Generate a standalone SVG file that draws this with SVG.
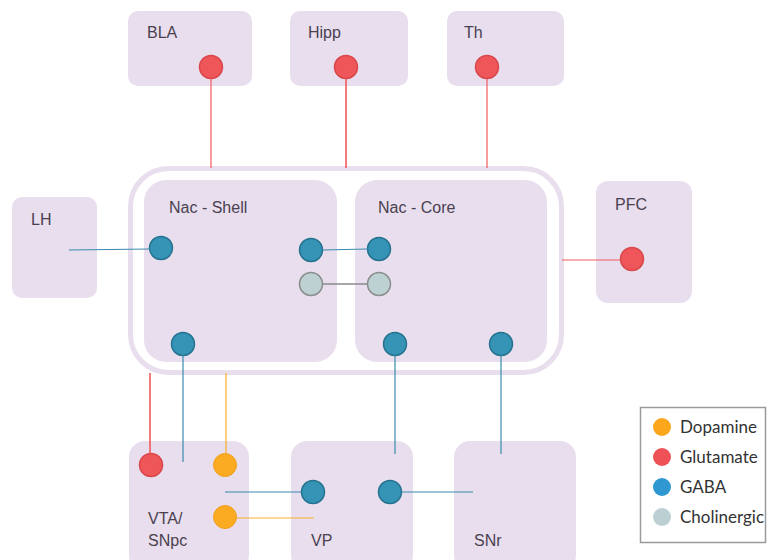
<svg xmlns="http://www.w3.org/2000/svg" width="768" height="560" viewBox="0 0 768 560">
<style>
.box{fill:#e8deed;}
.lbl{font-family:"Liberation Sans",Arial,sans-serif;font-size:16px;fill:#4a4150;}
.leg{font-family:"Lato","Open Sans",sans-serif;font-size:17px;fill:#333;}
.glu{fill:#ef5659;stroke:#d8474b;stroke-width:1.5;}
.gaba{fill:#3593b6;stroke:#24728f;stroke-width:1.5;}
.ach{fill:#bdd1d3;stroke:#8a8c8c;stroke-width:1.5;}
.da{fill:#fbab22;stroke:#f0a020;stroke-width:1;}
.cr{stroke:#f05a5c;stroke-width:1.2;fill:none;}
.cb{stroke:#3a8aae;stroke-width:1.2;fill:none;}
.co{stroke:#f9ad2a;stroke-width:1.2;fill:none;}
.cg{stroke:#8a8a8a;stroke-width:1.5;fill:none;}
</style>
<rect width="768" height="560" fill="#ffffff"/>
<g id="BLA">
<rect class="box" x="128" y="11" width="124" height="75" rx="10"/>
<text class="lbl" x="147" y="38">BLA</text>
<circle class="glu" cx="211" cy="67" r="11.5"/>
</g>
<g id="Hipp">
<rect class="box" x="290" y="11" width="118" height="75" rx="10"/>
<text class="lbl" x="308" y="38">Hipp</text>
<circle class="glu" cx="346" cy="67" r="11.5"/>
</g>
<g id="Th">
<rect class="box" x="447" y="11" width="117" height="75" rx="10"/>
<text class="lbl" x="464" y="38">Th</text>
<circle class="glu" cx="487" cy="67" r="11.5"/>
</g>
<g id="NAc">
<rect x="130.5" y="168.5" width="431" height="204" rx="38" fill="#ffffff" stroke="#e8deed" stroke-width="5"/>
</g>
<g id="LH">
<rect class="box" x="12" y="197" width="85" height="101" rx="10"/>
<text class="lbl" x="31" y="225">LH</text>
</g>
<g id="PFC">
<rect class="box" x="596" y="181" width="96" height="122" rx="12"/>
<text class="lbl" x="615" y="210">PFC</text>
<circle class="glu" cx="632" cy="259" r="11.5"/>
</g>
<g id="NacShell">
<rect class="box" x="144" y="180" width="193" height="182" rx="22"/>
<text class="lbl" x="169" y="213">Nac - Shell</text>
<circle class="gaba" cx="161" cy="248" r="11.5"/>
<circle class="gaba" cx="311" cy="250" r="11.5"/>
<circle class="ach" cx="311" cy="284" r="11.5"/>
<circle class="gaba" cx="183" cy="344" r="11.5"/>
</g>
<g id="NacCore">
<rect class="box" x="355" y="180" width="192" height="182" rx="22"/>
<text class="lbl" x="378" y="213">Nac - Core</text>
<circle class="gaba" cx="379" cy="249" r="11.5"/>
<circle class="ach" cx="379" cy="284" r="11.5"/>
<circle class="gaba" cx="395" cy="344" r="11.5"/>
<circle class="gaba" cx="501" cy="344" r="11.5"/>
</g>
<g id="VTA">
<rect class="box" x="129" y="441" width="120" height="130" rx="16"/>
<circle class="glu" cx="151" cy="465" r="11.5"/>
<circle class="da" cx="225" cy="465" r="11.5"/>
<circle class="da" cx="225" cy="517" r="11.5"/>
<text class="lbl" x="148" y="524">VTA/</text>
<text class="lbl" x="148" y="546">SNpc</text>
</g>
<g id="VP">
<rect class="box" x="291" y="441" width="122" height="130" rx="16"/>
<circle class="gaba" cx="313" cy="492" r="11.5"/>
<circle class="gaba" cx="390" cy="492" r="11.5"/>
<text class="lbl" x="311" y="546">VP</text>
</g>
<g id="SNr">
<rect class="box" x="454" y="441" width="122" height="130" rx="16"/>
<text class="lbl" x="474" y="546">SNr</text>
</g>
<g id="connectors">
<line class="cr" x1="211" y1="79" x2="211" y2="168"/>
<line class="cr" x1="346" y1="79" x2="346" y2="168" style="stroke-width:1.6"/>
<line class="cr" x1="487" y1="79" x2="487" y2="168"/>
<line class="cb" x1="69" y1="250" x2="149.5" y2="249"/>
<line class="cr" x1="562" y1="260" x2="620.5" y2="260"/>
<line class="cb" x1="322.5" y1="250" x2="367.5" y2="249"/>
<line class="cg" x1="322.5" y1="284" x2="367.5" y2="284"/>
<line class="cr" x1="150" y1="373" x2="150" y2="453.5" style="stroke-width:1.6"/>
<line class="cb" x1="183" y1="355.5" x2="183" y2="462"/>
<line class="co" x1="226" y1="373" x2="226" y2="453.5"/>
<line class="cb" x1="395" y1="355.5" x2="395" y2="454"/>
<line class="cb" x1="501" y1="355.5" x2="501" y2="454"/>
<line class="cb" x1="225" y1="492" x2="301.5" y2="492"/>
<line class="co" x1="236.5" y1="518" x2="314" y2="518"/>
<line class="cb" x1="401.5" y1="492" x2="473" y2="492"/>
</g>
<g id="legend">
<rect x="640.5" y="407.5" width="125" height="135" fill="#ffffff" stroke="#9a9a9a" stroke-width="1.5"/>
<circle cx="662" cy="427" r="9" fill="#fca61c"/>
<text class="leg" x="680" y="433">Dopamine</text>
<circle cx="662" cy="457" r="9" fill="#ee5257"/>
<text class="leg" x="680" y="463">Glutamate</text>
<circle cx="662" cy="487" r="9" fill="#2f98d0"/>
<text class="leg" x="680" y="493">GABA</text>
<circle cx="662" cy="517" r="9" fill="#bcd0d4"/>
<text class="leg" x="680" y="523">Cholinergic</text>
</g>
</svg>
